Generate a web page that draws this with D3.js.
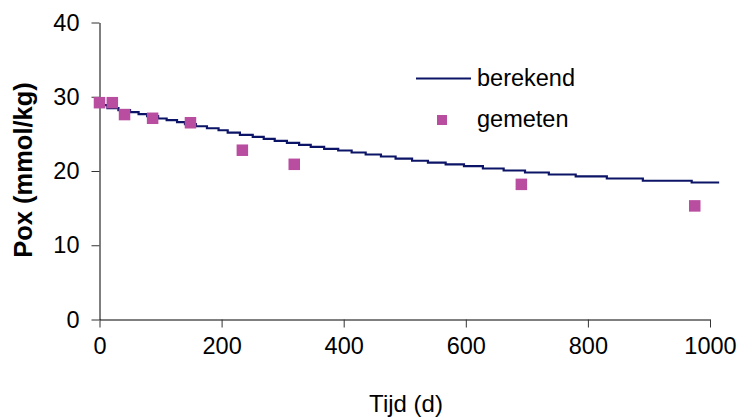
<!DOCTYPE html>
<html>
<head>
<meta charset="utf-8">
<script src="https://cdn.jsdelivr.net/npm/d3@7"></script>
<style>
  body { margin: 0; background: #fff; }
  svg { display: block; }
  text { font-family: "Liberation Sans", Arial, sans-serif; fill: #000; }
</style>
</head>
<body>
<svg id="chart" width="739" height="417"></svg>
<script>
// Axis ticks
const xTicks = [0, 200, 400, 600, 800, 1000];
const yTicks = [0, 10, 20, 30, 40];

// Measured Pox (gemeten)
const gemetenTijd = [0, 21, 41, 87, 149, 234, 319, 691, 975];
const gemetenPox  = [29.2, 29.2, 27.6, 27.1, 26.5, 22.8, 20.9, 18.2, 15.3];

// Calculated Pox (berekend), stepwise model output
const berekendTijd = [0, 13, 31, 50, 64, 78, 96, 110, 127, 140,
  158, 176, 195, 210, 230, 251, 269, 287, 307, 327,
  346, 368, 391, 413, 436, 461, 485, 512, 538, 567,
  597, 628, 662, 697, 736, 780, 831, 890, 970, 1015];
const berekendPox = [28.86, 28.46, 28.19, 27.92, 27.65, 27.38, 27.07, 26.84, 26.57, 26.30,
  26.03, 25.76, 25.49, 25.16, 24.86, 24.59, 24.32, 24.05, 23.78, 23.52,
  23.25, 22.98, 22.76, 22.49, 22.22, 21.95, 21.68, 21.38, 21.14, 20.88,
  20.65, 20.34, 20.07, 19.80, 19.53, 19.27, 18.99, 18.69, 18.45, 18.45];

const seriesNames = ["berekend", "gemeten"];
const xTitle = "Tijd (d)";
const yTitle = "Pox (mmol/kg)";

const lineColor = "#0b1466";
const markColor = "#b94d9f";

const svg = d3.select("#chart");

const x = d3.scaleLinear().domain([0, 1000]).range([99.5, 710]);
const y = d3.scaleLinear().domain([0, 40]).range([319.5, 22.5]);

// Axes
const xAxis = svg.append("g")
  .attr("transform", `translate(0,${y(0)})`)
  .call(d3.axisBottom(x).tickValues(xTicks).tickFormat(d3.format("d"))
    .tickSize(8).tickPadding(10).tickSizeOuter(0));
const yAxis = svg.append("g")
  .attr("transform", `translate(${x(0)},0)`)
  .call(d3.axisLeft(y).tickValues(yTicks).tickFormat(d3.format("d"))
    .tickSize(8).tickPadding(12).tickSizeOuter(0));

[xAxis, yAxis].forEach(g => {
  g.select(".domain").attr("stroke", "#000").attr("stroke-width", 1);
  g.selectAll(".tick line").attr("stroke", "#333").attr("stroke-width", 1);
  g.selectAll(".tick text")
    .attr("font-size", 23.5)
    .attr("font-family", "'Liberation Sans', Arial, sans-serif")
    .attr("fill", "#000");
});

// Calculated line
const line = d3.line()
  .x((d, i) => x(berekendTijd[i]))
  .y(d => y(d))
  .curve(d3.curveStepAfter);

svg.append("path")
  .datum(berekendPox)
  .attr("fill", "none")
  .attr("stroke", lineColor)
  .attr("stroke-width", 2.2)
  .attr("d", line);

// Measured points
const size = 11.5;
svg.append("g").selectAll("rect")
  .data(gemetenPox)
  .join("rect")
  .attr("x", (d, i) => x(gemetenTijd[i]) - size / 2)
  .attr("y", d => y(d) - size / 2)
  .attr("width", size)
  .attr("height", size)
  .attr("fill", markColor);

// Legend
const legend = svg.append("g");
legend.append("line")
  .attr("x1", 416).attr("x2", 471)
  .attr("y1", 78.5).attr("y2", 78.5)
  .attr("stroke", lineColor).attr("stroke-width", 2);
legend.append("text")
  .attr("x", 477).attr("y", 85.5)
  .attr("font-size", 23.5)
  .text(seriesNames[0]);
legend.append("rect")
  .attr("x", 437).attr("y", 115)
  .attr("width", 10).attr("height", 10)
  .attr("fill", markColor);
legend.append("text")
  .attr("x", 477).attr("y", 127)
  .attr("font-size", 23.5)
  .text(seriesNames[1]);

// Axis titles
svg.append("text")
  .attr("x", 406).attr("y", 412)
  .attr("text-anchor", "middle")
  .attr("font-size", 24)
  .text(xTitle);
svg.append("text")
  .attr("transform", "translate(32,170) rotate(-90)")
  .attr("text-anchor", "middle")
  .attr("font-size", 25.5)
  .attr("font-weight", "bold")
  .text(yTitle);
</script>
</body>
</html>
